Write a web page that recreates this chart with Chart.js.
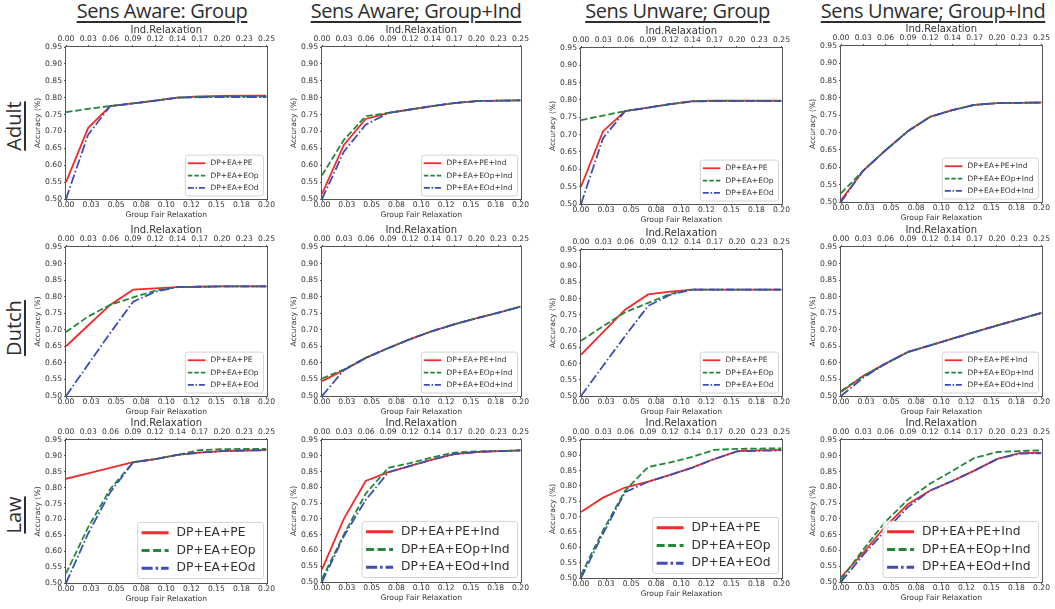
<!DOCTYPE html>
<html>
<head>
<meta charset="utf-8">
<script src="https://cdn.jsdelivr.net/npm/chart.js@4.4.1/dist/chart.umd.min.js"></script>
<style>
  body { margin: 0; background: #fff; }
  #wrap { position: relative; width: 1055px; height: 609px; overflow: hidden; background: #fff; }
  canvas { position: absolute; }
  .colTitle, .rowLabel {
    position: absolute; font-family: "Open Sans"; font-size: 20px; line-height: 20px;
    color: #2e2e2e; white-space: nowrap; text-decoration: underline;
    text-decoration-thickness: 1.5px; text-underline-offset: 3px;
  }
  .colTitle { transform: translateX(-50%); letter-spacing: -0.4px; }
  .rowLabel { transform: translate(-50%, -50%) rotate(-90deg); }
</style>
</head>
<body>
<div id="wrap"></div>
<script>
// ----------------------------
// Data
// ----------------------------
const groupX = [0, 0.022, 0.044, 0.067, 0.089, 0.111, 0.133, 0.156, 0.178, 0.2];
const groupTickVals = [0, 0.025, 0.05, 0.075, 0.1, 0.125, 0.15, 0.175, 0.2];
const groupTickLabels = ["0.00", "0.03", "0.05", "0.08", "0.10", "0.12", "0.15", "0.18", "0.20"];
const indTickLabels = ["0.00", "0.03", "0.06", "0.09", "0.12", "0.14", "0.17", "0.20", "0.23", "0.25"];
const accTicks = [0.50, 0.55, 0.60, 0.65, 0.70, 0.75, 0.80, 0.85, 0.90, 0.95];

const colTitles = ["Sens Aware: Group", "Sens Aware; Group+Ind", "Sens Unware; Group", "Sens Unware; Group+Ind"];
const rowNames = ["Adult", "Dutch", "Law"];
const namesGroup = ["DP+EA+PE", "DP+EA+EOp", "DP+EA+EOd"];
const namesInd = ["DP+EA+PE+Ind", "DP+EA+EOp+Ind", "DP+EA+EOd+Ind"];

// Adult
const adultAwG_PE  = [0.550, 0.710, 0.775, 0.783, 0.791, 0.800, 0.804, 0.805, 0.806, 0.806];
const adultAwG_EOp = [0.757, 0.767, 0.775, 0.783, 0.791, 0.800, 0.802, 0.803, 0.803, 0.803];
const adultAwG_EOd = [0.500, 0.690, 0.775, 0.783, 0.791, 0.800, 0.801, 0.802, 0.802, 0.802];

const adultAwGI_PE  = [0.515, 0.660, 0.737, 0.755, 0.765, 0.775, 0.784, 0.790, 0.791, 0.792];
const adultAwGI_EOp = [0.570, 0.675, 0.745, 0.755, 0.765, 0.775, 0.784, 0.790, 0.791, 0.792];
const adultAwGI_EOd = [0.500, 0.640, 0.720, 0.755, 0.765, 0.775, 0.784, 0.790, 0.791, 0.792];

const adultUnG_PE  = [0.550, 0.710, 0.768, 0.778, 0.788, 0.797, 0.798, 0.798, 0.798, 0.798];
const adultUnG_EOp = [0.742, 0.755, 0.768, 0.778, 0.788, 0.796, 0.797, 0.797, 0.797, 0.797];
const adultUnG_EOd = [0.500, 0.690, 0.768, 0.778, 0.788, 0.796, 0.797, 0.797, 0.797, 0.797];

const adultUnGI_PE  = [0.505, 0.590, 0.648, 0.705, 0.746, 0.765, 0.780, 0.785, 0.786, 0.787];
const adultUnGI_EOp = [0.525, 0.590, 0.648, 0.705, 0.746, 0.765, 0.780, 0.785, 0.786, 0.787];
const adultUnGI_EOd = [0.500, 0.590, 0.648, 0.705, 0.746, 0.765, 0.780, 0.785, 0.786, 0.787];

// Dutch
const dutchAwG_PE  = [0.650, 0.713, 0.775, 0.821, 0.825, 0.829, 0.830, 0.831, 0.831, 0.831];
const dutchAwG_EOp = [0.693, 0.740, 0.775, 0.798, 0.818, 0.829, 0.830, 0.831, 0.831, 0.831];
const dutchAwG_EOd = [0.500, 0.595, 0.690, 0.785, 0.815, 0.829, 0.830, 0.831, 0.831, 0.831];

const dutchAwGI_PE  = [0.545, 0.578, 0.615, 0.645, 0.672, 0.696, 0.716, 0.735, 0.752, 0.770];
const dutchAwGI_EOp = [0.553, 0.580, 0.615, 0.645, 0.672, 0.696, 0.716, 0.735, 0.752, 0.770];
const dutchAwGI_EOd = [0.500, 0.578, 0.615, 0.645, 0.672, 0.696, 0.716, 0.735, 0.752, 0.770];

const dutchUnG_PE  = [0.627, 0.697, 0.766, 0.813, 0.822, 0.828, 0.828, 0.828, 0.828, 0.828];
const dutchUnG_EOp = [0.670, 0.715, 0.758, 0.787, 0.815, 0.828, 0.828, 0.828, 0.828, 0.828];
const dutchUnG_EOd = [0.500, 0.593, 0.685, 0.778, 0.812, 0.828, 0.828, 0.828, 0.828, 0.828];

const dutchUnGI_PE  = [0.512, 0.560, 0.597, 0.633, 0.653, 0.673, 0.693, 0.713, 0.732, 0.751];
const dutchUnGI_EOp = [0.515, 0.560, 0.597, 0.633, 0.653, 0.673, 0.693, 0.713, 0.732, 0.751];
const dutchUnGI_EOd = [0.500, 0.555, 0.597, 0.633, 0.653, 0.673, 0.693, 0.713, 0.732, 0.751];

// Law
const lawAwG_PE  = [0.828, 0.845, 0.862, 0.880, 0.890, 0.903, 0.910, 0.915, 0.917, 0.918];
const lawAwG_EOp = [0.530, 0.675, 0.795, 0.880, 0.890, 0.903, 0.918, 0.921, 0.922, 0.922];
const lawAwG_EOd = [0.500, 0.655, 0.785, 0.880, 0.890, 0.903, 0.910, 0.915, 0.917, 0.918];

const lawAwGI_PE  = [0.540, 0.700, 0.820, 0.848, 0.868, 0.888, 0.905, 0.912, 0.915, 0.917];
const lawAwGI_EOp = [0.510, 0.650, 0.780, 0.862, 0.877, 0.895, 0.910, 0.914, 0.915, 0.917];
const lawAwGI_EOd = [0.500, 0.645, 0.760, 0.848, 0.868, 0.888, 0.905, 0.912, 0.915, 0.917];

const lawUnG_PE  = [0.715, 0.762, 0.795, 0.814, 0.836, 0.860, 0.888, 0.914, 0.916, 0.918];
const lawUnG_EOp = [0.510, 0.655, 0.785, 0.862, 0.877, 0.895, 0.918, 0.921, 0.922, 0.923];
const lawUnG_EOd = [0.500, 0.645, 0.780, 0.814, 0.836, 0.860, 0.888, 0.913, 0.915, 0.916];

const lawUnGI_PE  = [0.515, 0.592, 0.675, 0.747, 0.790, 0.820, 0.853, 0.890, 0.908, 0.909];
const lawUnGI_EOp = [0.508, 0.602, 0.690, 0.762, 0.812, 0.852, 0.893, 0.912, 0.915, 0.917];
const lawUnGI_EOd = [0.500, 0.585, 0.662, 0.738, 0.790, 0.820, 0.853, 0.890, 0.907, 0.908];

const seriesGrid = [
  [[adultAwG_PE, adultAwG_EOp, adultAwG_EOd], [adultAwGI_PE, adultAwGI_EOp, adultAwGI_EOd],
   [adultUnG_PE, adultUnG_EOp, adultUnG_EOd], [adultUnGI_PE, adultUnGI_EOp, adultUnGI_EOd]],
  [[dutchAwG_PE, dutchAwG_EOp, dutchAwG_EOd], [dutchAwGI_PE, dutchAwGI_EOp, dutchAwGI_EOd],
   [dutchUnG_PE, dutchUnG_EOp, dutchUnG_EOd], [dutchUnGI_PE, dutchUnGI_EOp, dutchUnGI_EOd]],
  [[lawAwG_PE, lawAwG_EOp, lawAwG_EOd], [lawAwGI_PE, lawAwGI_EOp, lawAwGI_EOd],
   [lawUnG_PE, lawUnG_EOp, lawUnG_EOd], [lawUnGI_PE, lawUnGI_EOp, lawUnGI_EOd]]
];

// ----------------------------
// Layout / style
// ----------------------------
// plot area of each panel: [left, top, right, bottom]
const plotRects = [
  [[66, 47, 267, 199], [322, 47, 521, 199], [581, 48, 782, 204], [841, 46, 1042, 202]],
  [[66, 247, 267, 396], [322, 247, 521, 396], [581, 250, 782, 396], [841, 247, 1042, 396]],
  [[66, 440, 267, 583], [322, 440, 521, 582], [581, 440, 782, 578], [841, 440, 1042, 582]]
];
const colTitleX = [162, 416, 677.5, 933];
const rowLabelY = [126, 328, 515];

const lineColors = ["#f22a2a", "#22883a", "#3b4db8"];
const lineDashes = [[], [6.5, 2.8], [9.5, 2.5, 1.6, 2.5]];
const textCol = "#333";
const axisCol = "#555";
const yW = 32, topH = 22, botH = 20, padR = 10;

const legendSmall = { size: 7.5, padL: 2.5, lineLen: 17.6, gap: 5, padR: 5, padT: 2, rowH: 12.3,
  insetX: 3, insetY: 3, lw: 1.8, dash: [[], [4.5, 2], [6, 1.8, 1.5, 1.8]] };
const legendLarge = { size: 12.3, padL: 4, lineLen: 27, gap: 8, padR: 8, padT: 1.5, rowH: 17.7,
  insetX: 3, insetY: 4.5, lw: 3, dash: [[], [8, 3.5], [11, 3, 2.5, 3]] };

Chart.defaults.font.family = '"DejaVu Sans"';
Chart.defaults.color = textCol;

// spines round the plot area, drawn over the lines like matplotlib
const framePlugin = {
  id: 'frame',
  afterDatasetsDraw(chart) {
    const { ctx, chartArea: a } = chart;
    ctx.save();
    ctx.strokeStyle = axisCol;
    ctx.lineWidth = 1;
    ctx.strokeRect(Math.round(a.left) - 0.5, Math.round(a.top) - 0.5,
      Math.round(a.right - a.left) + 1, Math.round(a.bottom - a.top) + 1);
    ctx.restore();
  }
};

// legend box in the lower right corner of the plot area
const boxLegend = {
  id: 'boxLegend',
  afterDraw(chart, args, o) {
    const { ctx, chartArea: a } = chart;
    const sets = chart.data.datasets;
    ctx.save();
    ctx.font = o.size + 'px "DejaVu Sans"';
    const tw = Math.max(...sets.map(d => ctx.measureText(d.label).width));
    const w = o.padL + o.lineLen + o.gap + tw + o.padR;
    const h = o.padT * 2 + o.rowH * sets.length;
    const x = a.right - o.insetX - w, y = a.bottom - o.insetY - h;
    ctx.beginPath();
    ctx.roundRect(x, y, w, h, 2.5);
    ctx.fillStyle = "rgba(255,255,255,0.85)";
    ctx.fill();
    ctx.strokeStyle = "#d4d4d4";
    ctx.lineWidth = 1;
    ctx.stroke();
    sets.forEach((d, i) => {
      const cy = y + o.padT + o.rowH * (i + 0.5);
      ctx.beginPath();
      ctx.setLineDash(o.dash[i]);
      ctx.strokeStyle = d.borderColor;
      ctx.lineWidth = o.lw;
      ctx.moveTo(x + o.padL, cy);
      ctx.lineTo(x + o.padL + o.lineLen, cy);
      ctx.stroke();
      ctx.setLineDash([]);
      ctx.fillStyle = textCol;
      ctx.textBaseline = "middle";
      ctx.fillText(d.label, x + o.padL + o.lineLen + o.gap, cy);
    });
    ctx.restore();
  }
};

const wrap = document.getElementById("wrap");
const tickFont = { size: 7.6, lineHeight: 1 };
const gridOpts = { drawOnChartArea: false, drawTicks: true, tickLength: 2, color: axisCol, offset: false };

function makePanel(r, c) {
  const [L, T, R, B] = plotRects[r][c];
  const cv = document.createElement("canvas");
  cv.width = R - L + yW + padR;
  cv.height = B - T + topH + botH;
  cv.style.left = (L - yW) + "px";
  cv.style.top = (T - topH) + "px";
  wrap.appendChild(cv);
  const names = c % 2 === 0 ? namesGroup : namesInd;

  new Chart(cv, {
    type: "line",
    data: {
      datasets: seriesGrid[r][c].map((vals, k) => ({
        label: names[k],
        data: groupX.map((x, i) => ({ x: x, y: vals[i] })),
        borderColor: lineColors[k],
        borderDash: lineDashes[k],
        borderWidth: 1.8,
        pointRadius: 0,
        tension: 0,
        fill: false,
        order: 3 - k
      }))
    },
    options: {
      responsive: false,
      animation: false,
      devicePixelRatio: 1,
      layout: { padding: { left: 0, right: padR, top: 0, bottom: 0 } },
      plugins: {
        legend: { display: false },
        tooltip: { enabled: false },
        boxLegend: r === 2 ? legendLarge : legendSmall
      },
      scales: {
        x: {
          type: "linear", position: "bottom", min: 0, max: 0.2,
          afterBuildTicks: s => { s.ticks = groupTickVals.map(v => ({ value: v })); },
          afterFit: s => { s.height = botH; },
          ticks: { autoSkip: false, maxRotation: 0, padding: 0.5, font: tickFont, color: textCol,
            callback: (v, i) => groupTickLabels[i] },
          grid: gridOpts,
          border: { display: false },
          title: { display: true, text: "Group Fair Relaxation", font: { size: 7.6, lineHeight: 1 },
            color: textCol, padding: 0 }
        },
        x2: {
          type: "category", position: "top", labels: indTickLabels, offset: false,
          afterFit: s => { s.height = topH; },
          ticks: { autoSkip: false, maxRotation: 0, padding: 2, font: tickFont, color: textCol },
          grid: gridOpts,
          border: { display: false },
          title: { display: true, text: "Ind.Relaxation", font: { size: 10, lineHeight: 1 },
            color: textCol, padding: 0 }
        },
        y: {
          type: "linear", min: 0.5, max: 0.95,
          afterBuildTicks: s => { s.ticks = accTicks.map(v => ({ value: v })); },
          afterFit: s => { s.width = yW; },
          ticks: { padding: 2, font: tickFont, color: textCol, callback: v => v.toFixed(2) },
          grid: gridOpts,
          border: { display: false },
          title: { display: true, text: "Accuracy (%)", font: { size: 7.6, lineHeight: 1 },
            color: textCol, padding: 0 }
        }
      }
    },
    plugins: [framePlugin, boxLegend]
  });
}

for (let r = 0; r < 3; r++) {
  for (let c = 0; c < 4; c++) makePanel(r, c);
}

// column titles and row labels
colTitles.forEach((t, c) => {
  const d = document.createElement("div");
  d.className = "colTitle";
  d.textContent = t;
  d.style.left = colTitleX[c] + "px";
  d.style.top = "0.5px";
  wrap.appendChild(d);
});
rowNames.forEach((t, r) => {
  const d = document.createElement("div");
  d.className = "rowLabel";
  d.textContent = t;
  d.style.left = "13.9px";
  d.style.top = rowLabelY[r] + "px";
  wrap.appendChild(d);
});
</script>
</body>
</html>
